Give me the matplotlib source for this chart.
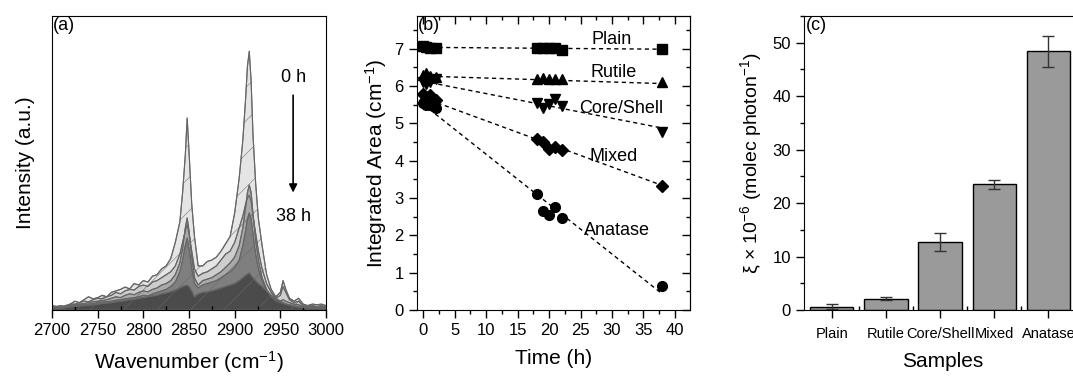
import numpy as np
import matplotlib
matplotlib.use("Agg")
import matplotlib.pyplot as plt
from matplotlib.ticker import MultipleLocator, FixedLocator, NullFormatter

plt.rcParams['font.family'] = ['Liberation Sans', 'DejaVu Sans']
plt.rcParams['mathtext.fontset'] = 'custom'
plt.rcParams['mathtext.rm'] = 'Liberation Sans'
plt.rcParams['mathtext.it'] = 'Liberation Sans:italic'
plt.rcParams['hatch.linewidth'] = 0.4

# ---- panel (a): Raman spectra, 0 h -> 38 h (fraction of axis height)
wavenumber = [2700, 2705, 2710, 2715, 2720, 2725, 2730, 2735, 2740, 2745,
              2750, 2755, 2760, 2765, 2770, 2775, 2780, 2785, 2790, 2795,
              2800, 2805, 2810, 2815, 2820, 2825, 2830, 2835, 2840, 2843,
              2846, 2848, 2850, 2853, 2856, 2860, 2865, 2870, 2875, 2880,
              2885, 2890, 2895, 2900, 2905, 2909, 2912, 2914, 2916, 2918,
              2920, 2923, 2926, 2930, 2935, 2940, 2945, 2950, 2953, 2956,
              2960, 2965, 2970, 2975, 2980, 2985, 2990, 2995, 3000]
spec_0h = [.015, .012, .015, .010, .020, .030, .025, .035, .045, .038,
           .042, .050, .045, .060, .065, .070, .078, .072, .090, .085,
           .100, .095, .115, .120, .140, .150, .175, .230, .300, .400,
           .530, .653, .540, .360, .250, .150, .150, .165, .170, .180,
           .200, .225, .250, .330, .450, .580, .720, .830, .880, .780,
           .600, .430, .310, .220, .120, .070, .045, .060, .100, .070,
           .040, .030, .040, .020, .015, .020, .018, .020, .015]
spec_18h = [.010, .012, .010, .015, .020, .020, .025, .030, .028, .035,
            .040, .038, .045, .050, .060, .055, .065, .070, .068, .080,
            .085, .080, .095, .100, .110, .120, .130, .150, .190, .230,
            .270, .290, .260, .200, .140, .115, .125, .130, .140, .150,
            .170, .190, .200, .230, .280, .320, .360, .380, .390, .370,
            .320, .260, .200, .140, .090, .060, .040, .050, .080, .060,
            .035, .025, .030, .015, .012, .015, .012, .015, .010]
spec_20h = [.008, .010, .008, .012, .015, .018, .020, .022, .025, .028,
            .030, .032, .035, .040, .045, .042, .050, .055, .052, .060,
            .065, .062, .070, .075, .085, .090, .100, .120, .160, .210,
            .280, .313, .270, .180, .110, .085, .100, .105, .110, .120,
            .130, .145, .160, .180, .220, .280, .350, .400, .425, .400,
            .330, .240, .170, .110, .070, .045, .035, .030, .035, .030,
            .025, .020, .018, .012, .010, .012, .010, .012, .008]
spec_22h = [.006, .008, .006, .010, .012, .015, .017, .018, .020, .022,
            .025, .027, .028, .030, .033, .035, .038, .040, .042, .045,
            .050, .048, .055, .060, .065, .070, .080, .095, .130, .170,
            .220, .245, .210, .140, .090, .075, .085, .090, .095, .100,
            .110, .120, .130, .145, .170, .220, .270, .310, .330, .310,
            .260, .190, .140, .100, .065, .045, .030, .025, .022, .020,
            .018, .015, .012, .010, .008, .008, .007, .008, .006]
spec_38h = [.005, .006, .005, .008, .010, .012, .014, .015, .016, .018,
            .020, .022, .024, .025, .028, .030, .032, .035, .036, .040,
            .042, .045, .048, .050, .055, .058, .062, .068, .075, .080,
            .083, .085, .080, .065, .045, .055, .060, .062, .065, .070,
            .075, .080, .085, .090, .100, .110, .118, .122, .126, .118,
            .110, .100, .090, .080, .065, .050, .040, .030, .025, .020,
            .016, .012, .010, .008, .006, .006, .005, .006, .005]
spectra = [spec_0h, spec_18h, spec_20h, spec_22h, spec_38h]
spec_colors = ['#e3e3e3', '#cbcbcb', '#a5a5a5', '#7b7b7b', '#464646']

# ---- panel (b): integrated area vs time
time_h = [0, 0.5, 1, 2, 18, 19, 20, 21, 22, 38]
area_plain = [7.08, 7.05, 7.03, 7.03, 7.02, 7.02, 7.03, 7.01, 6.97, 6.99]
area_rutile = [6.30, 6.35, 6.28, 6.25, 6.20, 6.21, 6.20, 6.20, 6.20, 6.10]
area_core = [6.10, 6.05, 6.12, 6.18, 5.55, 5.42, 5.52, 5.65, 5.48, 4.76]
area_mixed = [5.80, 5.72, 5.75, 5.62, 4.58, 4.51, 4.32, 4.38, 4.28, 3.32]
area_anatase = [5.55, 5.50, 5.50, 5.42, 3.11, 2.66, 2.55, 2.75, 2.46, 0.65]
series_names = ['Plain', 'Rutile', 'Core/Shell', 'Mixed', 'Anatase']
series_markers = ['s', '^', 'v', 'D', 'o']
fit_intercept = [7.04, 6.27, 6.13, 5.69, 5.51]
fit_slope = [-0.0013, -0.0053, -0.033, -0.0619, -0.1337]
label_pos = [(29.9, 7.24), (30.2, 6.36), (31.5, 5.40), (30.2, 4.11), (30.8, 2.14)]

# ---- panel (c): quantum efficiency
samples = ['Plain', 'Rutile', 'Core/Shell', 'Mixed', 'Anatase']
xi_val = [0.6, 2.1, 12.7, 23.5, 48.4]
xi_err = [0.5, 0.3, 1.7, 0.8, 2.9]

fig = plt.figure(figsize=(10.73, 3.77), dpi=100)
W, H = 1073, 377

def box(l, r, t, b):
    return [l / W, (H - b) / H, (r - l) / W, (b - t) / H]

tick_fs = 12
lab_fs = 15

# (a)
ax1 = fig.add_axes(box(52, 326, 16, 310))
for spec, col in zip(spectra, spec_colors):
    ax1.fill_between(wavenumber, 0, spec, facecolor=col, edgecolor='#6a6a6a',
                     hatch='/', linewidth=0.8, alpha=0.9)
    ax1.plot(wavenumber, spec, color='#666666', lw=0.8)
ax1.set_xlim(2700, 3000)
ax1.set_ylim(0, 1)
ax1.set_yticks([])
ax1.xaxis.set_major_locator(MultipleLocator(50))
ax1.xaxis.set_minor_locator(MultipleLocator(25))
ax1.tick_params(axis='x', which='major', direction='out', length=6, width=1, labelsize=tick_fs)
ax1.tick_params(axis='x', which='minor', direction='in', length=3, width=1)
ax1.set_xlabel('Wavenumber (cm$^{-1}$)', fontsize=lab_fs, labelpad=8)
ax1.set_ylabel('Intensity (a.u.)', fontsize=lab_fs, labelpad=12)
ax1.text(0.005, 0.995, '(a)', transform=ax1.transAxes, ha='left', va='top', fontsize=13)
ax1.text(2964, 0.79, '0 h', ha='center', va='center', fontsize=13)
ax1.text(2964, 0.317, '38 h', ha='center', va='center', fontsize=13)
ax1.annotate('', xy=(2964, 0.39), xytext=(2964, 0.74),
             arrowprops=dict(arrowstyle='-|>', color='black', lw=1.2, mutation_scale=12))

# (b)
ax2 = fig.add_axes(box(417, 690, 16, 310))
series = [area_plain, area_rutile, area_core, area_mixed, area_anatase]
t_fit = np.array([0, 38])
for vals, mk, a0, k, name, pos in zip(series, series_markers, fit_intercept, fit_slope,
                                       series_names, label_pos):
    ax2.plot(t_fit, a0 + k * t_fit, color='black', lw=1, ls=(0, (3, 2.5)))
    ax2.plot(time_h, vals, ls='none', marker=mk, color='black', ms=7 if mk != 'D' else 6)
    ax2.text(pos[0], pos[1], name, ha='center', va='center', fontsize=13)
ax2.set_xlim(-1, 42.4)
ax2.set_ylim(0, 7.88)
ax2.xaxis.set_major_locator(MultipleLocator(5))
ax2.xaxis.set_minor_locator(MultipleLocator(2.5))
ax2.yaxis.set_major_locator(MultipleLocator(1))
ax2.yaxis.set_minor_locator(MultipleLocator(0.5))
ax2.tick_params(which='major', direction='out', length=6, width=1, labelsize=tick_fs)
ax2.tick_params(which='minor', direction='out', length=3, width=1)
top = ax2.secondary_xaxis('top')
top.xaxis.set_major_locator(MultipleLocator(5))
top.xaxis.set_minor_locator(MultipleLocator(2.5))
top.xaxis.set_major_formatter(NullFormatter())
top.tick_params(which='major', direction='in', length=6, width=1)
top.tick_params(which='minor', direction='in', length=3, width=1)
right = ax2.secondary_yaxis('right')
right.yaxis.set_major_locator(MultipleLocator(1))
right.yaxis.set_minor_locator(MultipleLocator(0.5))
right.yaxis.set_major_formatter(NullFormatter())
right.tick_params(which='major', direction='in', length=6, width=1)
right.tick_params(which='minor', direction='in', length=3, width=1)
ax2.set_xlabel('Time (h)', fontsize=lab_fs, labelpad=8)
ax2.set_ylabel('Integrated Area (cm$^{-1}$)', fontsize=lab_fs, labelpad=4)
ax2.text(0.005, 0.995, '(b)', transform=ax2.transAxes, ha='left', va='top', fontsize=13)

# (c)
ax3 = fig.add_axes(box(804, 1081, 16, 310))
pos_c = np.arange(1, len(samples) + 1)
ax3.bar(pos_c, xi_val, width=0.8, color='#9a9a9a', edgecolor='black', linewidth=1,
        yerr=xi_err, error_kw=dict(ecolor='#333333', elinewidth=1, capsize=4.5, capthick=1))
ax3.set_xlim(0.49, 5.6)
ax3.set_ylim(0, 55)
ax3.set_xticks(pos_c)
ax3.set_xticklabels(samples, fontsize=10.5)
ax3.xaxis.set_minor_locator(FixedLocator(pos_c[:-1] + 0.5))
ax3.yaxis.set_major_locator(MultipleLocator(10))
ax3.yaxis.set_minor_locator(MultipleLocator(5))
ax3.tick_params(axis='y', which='major', direction='out', length=6, width=1, labelsize=tick_fs)
ax3.tick_params(axis='y', which='minor', direction='out', length=3, width=1)
ax3.tick_params(axis='x', which='major', direction='out', length=6, width=1, pad=6)
ax3.tick_params(axis='x', which='minor', direction='in', length=3, width=1)
ax3.set_xlabel('Samples', fontsize=lab_fs, labelpad=8)
ax3.set_ylabel('ξ × 10$^{-6}$ (molec photon$^{-1}$)', fontsize=14, labelpad=6)
ax3.text(0.005, 0.995, '(c)', transform=ax3.transAxes, ha='left', va='top', fontsize=13)

fig.savefig('out.png', dpi=100)
